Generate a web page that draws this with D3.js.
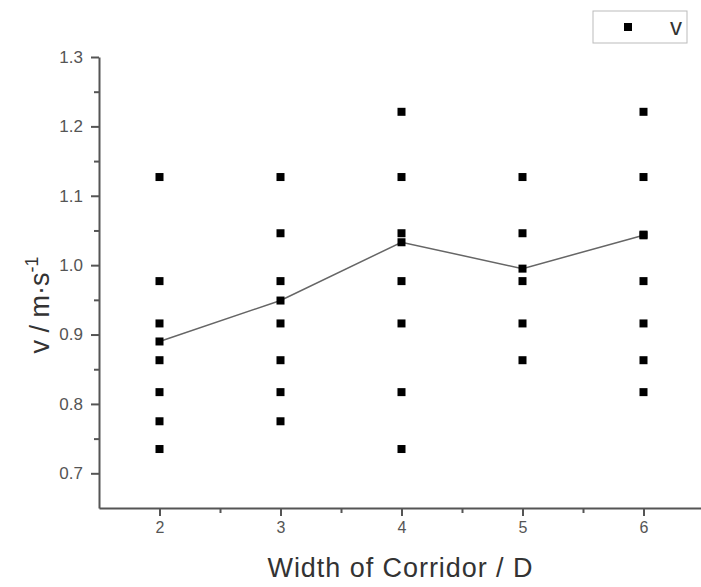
<!DOCTYPE html>
<html>
<head>
<meta charset="utf-8">
<script src="https://cdn.jsdelivr.net/npm/d3@7"></script>
<style>
  body { margin: 0; background: #fff; }
  text { font-family: "Liberation Sans", Arial, sans-serif; }
</style>
</head>
<body>
<div class="container"></div>
<script>
// measured speeds per corridor width
const widths = [2, 3, 4, 5, 6];
const speedsW2 = [1.127, 0.977, 0.916, 0.863, 0.817, 0.775, 0.735];
const speedsW3 = [1.127, 1.046, 0.977, 0.916, 0.863, 0.817, 0.775];
const speedsW4 = [1.221, 1.127, 1.046, 0.977, 0.916, 0.817, 0.735];
const speedsW5 = [1.127, 1.046, 0.977, 0.916, 0.863];
const speedsW6 = [1.221, 1.127, 1.044, 0.977, 0.916, 0.863, 0.817];
const meanSpeeds = [0.890, 0.949, 1.033, 0.995, 1.043];
const xTicks = [2, 3, 4, 5, 6];
const yTicks = [0.7, 0.8, 0.9, 1.0, 1.1, 1.2, 1.3];

const width = 701, height = 587;
const axisColor = "#555";

const xScale = d3.scaleLinear().domain([1.5, 6.5]).range([99, 704]);
const yScale = d3.scaleLinear().domain([0.65, 1.3]).range([508, 57]);

const svg = d3.select(".container").append("svg")
    .attr("width", width).attr("height", height);

const points = [];
[speedsW2, speedsW3, speedsW4, speedsW5, speedsW6].forEach((arr, i) => {
    arr.forEach(v => points.push({ w: widths[i], v: v }));
});
widths.forEach((w, i) => points.push({ w: w, v: meanSpeeds[i] }));

// minor ticks
const xMinor = d3.axisBottom(xScale).tickValues(d3.range(2.5, 6.5, 1)).tickSize(5).tickFormat("");
const yMinor = d3.axisLeft(yScale).tickValues(d3.range(0.75, 1.3, 0.1)).tickSize(5).tickFormat("");

function styleAxis(g, size) {
    g.select(".domain").attr("stroke", axisColor).attr("stroke-width", 2);
    g.selectAll(".tick line").attr("stroke", axisColor).attr("stroke-width", 2);
    g.selectAll(".tick text").attr("fill", "#555").style("font-size", size + "px");
}

const xAxis = d3.axisBottom(xScale).tickValues(xTicks).tickSize(8).tickPadding(6).tickSizeOuter(0)
    .tickFormat(d3.format("d"));
svg.append("g").attr("transform", "translate(0,508)").call(xAxis).call(styleAxis, 16);
svg.append("g").attr("transform", "translate(0,508)").call(xMinor).call(styleAxis, 16)
    .select(".domain").remove();

const yAxis = d3.axisLeft(yScale).tickValues(yTicks).tickSize(8).tickPadding(8).tickSizeOuter(0)
    .tickFormat(d3.format(".1f"));
svg.append("g").attr("transform", "translate(99,0)").call(yAxis).call(styleAxis, 17);
svg.append("g").attr("transform", "translate(99,0)").call(yMinor).call(styleAxis, 17)
    .select(".domain").remove();

// mean line
const line = d3.line().x((d, i) => xScale(widths[i])).y(d => yScale(d));
svg.append("path")
    .datum(meanSpeeds)
    .attr("d", line)
    .attr("fill", "none")
    .attr("stroke", "#666")
    .attr("stroke-width", 1.5);

// points
svg.selectAll("rect.pt")
    .data(points)
    .enter()
    .append("rect")
    .attr("class", "pt")
    .attr("x", d => xScale(d.w) - 4)
    .attr("y", d => yScale(d.v) - 4)
    .attr("width", 8)
    .attr("height", 8)
    .attr("fill", "#000");

// axis titles
svg.append("text")
    .text("Width of Corridor / D")
    .attr("x", 400).attr("y", 577)
    .attr("text-anchor", "middle")
    .attr("textLength", 265)
    .style("font-size", "27px")
    .attr("fill", "#333");

const yTitle = svg.append("text")
    .attr("transform", "translate(49,305) rotate(-90)")
    .attr("text-anchor", "middle")
    .style("font-size", "27px")
    .attr("fill", "#333");
yTitle.append("tspan").text("v / m·s");
yTitle.append("tspan").text("-1").attr("dy", -11).style("font-size", "18px");

// legend
const legend = svg.append("g");
legend.append("rect")
    .attr("x", 593).attr("y", 11).attr("width", 94).attr("height", 32)
    .attr("fill", "#fff").attr("stroke", "#bbb").attr("stroke-width", 1);
legend.append("rect")
    .attr("x", 624).attr("y", 23).attr("width", 8).attr("height", 8).attr("fill", "#000");
legend.append("text")
    .text("v").attr("x", 676).attr("y", 35)
    .attr("text-anchor", "middle")
    .style("font-size", "24px")
    .attr("fill", "#333");
</script>
</body>
</html>
